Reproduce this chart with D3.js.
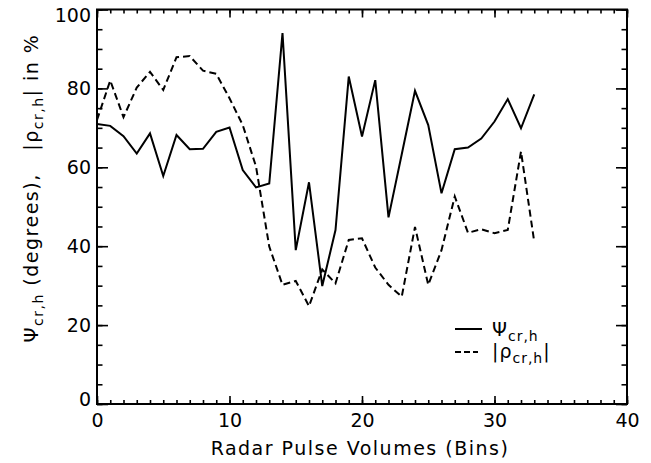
<!DOCTYPE html>
<html>
<head>
<meta charset="utf-8">
<script src="https://cdn.jsdelivr.net/npm/d3@7"></script>
<style>
  body { margin: 0; background: #fff; }
  text { font-family: "DejaVu Sans", sans-serif; fill: #000; }
</style>
</head>
<body>
<script>
// bins along the range
var bins = [0, 1, 2, 3, 4, 5, 6, 7, 8, 9, 10, 11, 12, 13, 14, 15, 16,
    17, 18, 19, 20, 21, 22, 23, 24, 25, 26, 27, 28, 29, 30, 31, 32, 33];

// psi_cr,h in degrees
var psi = [71.0, 70.5, 67.9, 63.5, 68.6, 57.8, 68.2, 64.6, 64.7, 69.0, 70.1,
    59.3, 54.9, 55.9, 94.0, 39.0, 56.2, 29.9, 44.1, 83.0, 67.8, 82.1, 47.3,
    63.3, 79.4, 70.7, 53.4, 64.6, 65.0, 67.3, 71.6, 77.3, 69.9, 78.5];

// |rho_cr,h| in %
var rho = [72.0, 82.0, 72.7, 80.2, 84.2, 79.6, 87.9, 88.2, 84.5, 83.7, 77.5,
    70.7, 60.2, 39.9, 30.2, 31.2, 24.8, 34.1, 30.6, 41.6, 42.0, 34.6, 30.2,
    27.2, 44.9, 30.2, 39.0, 52.6, 43.4, 44.3, 43.3, 44.1, 64.0, 41.1];

var xTicks = [0, 10, 20, 30, 40];
var yTicks = [0, 20, 40, 60, 80, 100];

var W = 651, H = 463;
var pl = 97, pr = 627, pt = 9.5, pb = 404;

var svg = d3.select('body').append('svg')
    .attr('width', W)
    .attr('height', H);

var x = d3.scaleLinear().domain([0, 40]).range([pl, pr]);
var y = d3.scaleLinear().domain([0, 100]).range([pb, pt]);

function styleAxis(g) {
    g.select('.domain').remove();
    g.selectAll('line').attr('stroke', '#000').attr('stroke-width', 1.6);
    g.selectAll('text').style('font-size', '19px').attr('fill', '#000');
}

// minor ticks (no labels)
svg.append('g').attr('transform', 'translate(0,' + pb + ')')
    .call(d3.axisBottom(x).tickValues(d3.range(0, 41)).tickSize(-4).tickFormat(''))
    .call(styleAxis);
svg.append('g').attr('transform', 'translate(0,' + pt + ')')
    .call(d3.axisTop(x).tickValues(d3.range(0, 41)).tickSize(-4).tickFormat(''))
    .call(styleAxis);
svg.append('g').attr('transform', 'translate(' + pl + ',0)')
    .call(d3.axisLeft(y).tickValues(d3.range(0, 101, 5)).tickSize(-5.5).tickFormat(''))
    .call(styleAxis);
svg.append('g').attr('transform', 'translate(' + pr + ',0)')
    .call(d3.axisRight(y).tickValues(d3.range(0, 101, 5)).tickSize(-5.5).tickFormat(''))
    .call(styleAxis);

// major ticks
svg.append('g').attr('transform', 'translate(0,' + pb + ')')
    .call(d3.axisBottom(x).tickValues(xTicks).tickSize(-8).tickPadding(10).tickFormat(d3.format('d')))
    .call(styleAxis);
svg.append('g').attr('transform', 'translate(0,' + pt + ')')
    .call(d3.axisTop(x).tickValues(xTicks).tickSize(-8).tickFormat(''))
    .call(styleAxis);
var yAx = svg.append('g').attr('transform', 'translate(' + pl + ',0)')
    .call(d3.axisLeft(y).tickValues(yTicks).tickSize(-11).tickPadding(6).tickFormat(d3.format('d')))
    .call(styleAxis);
// IDL keeps end labels inside the frame span
yAx.selectAll('.tick text')
    .attr('dy', function (d) { return d === 100 ? '0.62em' : d === 0 ? '0.1em' : '0.32em'; });
svg.append('g').attr('transform', 'translate(' + pr + ',0)')
    .call(d3.axisRight(y).tickValues(yTicks).tickSize(-11).tickFormat(''))
    .call(styleAxis);

// frame
svg.append('rect')
    .attr('x', pl).attr('y', pt)
    .attr('width', pr - pl).attr('height', pb - pt)
    .attr('fill', 'none').attr('stroke', '#000').attr('stroke-width', 2);

var line = d3.line()
    .x(function (d, i) { return x(bins[i]); })
    .y(function (d) { return y(d); })
    .curve(d3.curveLinear);

svg.append('path').datum(psi)
    .attr('d', line)
    .attr('fill', 'none').attr('stroke', '#000').attr('stroke-width', 2)
    .attr('stroke-linejoin', 'miter');

svg.append('path').datum(rho)
    .attr('d', line)
    .attr('fill', 'none').attr('stroke', '#000').attr('stroke-width', 2)
    .attr('stroke-dasharray', '7,4');

// axis titles
svg.append('text')
    .attr('x', (pl + pr) / 2 - 2).attr('y', 455)
    .attr('text-anchor', 'middle')
    .style('font-size', '19px')
    .style('letter-spacing', '1.5px')
    .text('Radar Pulse Volumes (Bins)');

var yt = svg.append('text')
    .attr('transform', 'translate(38,188) rotate(-90)')
    .attr('text-anchor', 'middle')
    .style('font-size', '19px')
    .style('letter-spacing', '1.5px');
yt.append('tspan').text('\u03A8');
yt.append('tspan').attr('dy', 5).style('font-size', '14px').text('cr,h');
yt.append('tspan').attr('dy', -5).text(' (degrees),\u00A0\u00A0 |\u03C1');
yt.append('tspan').attr('dy', 5).style('font-size', '14px').text('cr,h');
yt.append('tspan').attr('dy', -5).text('| in %');

// legend
var legend = svg.append('g');
legend.append('line')
    .attr('x1', 455).attr('x2', 482).attr('y1', 329).attr('y2', 329)
    .attr('stroke', '#000').attr('stroke-width', 2);
legend.append('line')
    .attr('x1', 455).attr('x2', 478).attr('y1', 352).attr('y2', 352)
    .attr('stroke', '#000').attr('stroke-width', 2)
    .attr('stroke-dasharray', '6,3');

var l1 = legend.append('text').attr('x', 492).attr('y', 336)
    .style('font-size', '19px').style('letter-spacing', '1px');
l1.append('tspan').text('\u03A8');
l1.append('tspan').attr('dy', 5).style('font-size', '14px').text('cr,h');

var l2 = legend.append('text').attr('x', 492).attr('y', 358)
    .style('font-size', '19px').style('letter-spacing', '1px');
l2.append('tspan').text('|\u03C1');
l2.append('tspan').attr('dy', 5).style('font-size', '14px').text('cr,h');
l2.append('tspan').attr('dy', -5).text('|');
</script>
</body>
</html>
